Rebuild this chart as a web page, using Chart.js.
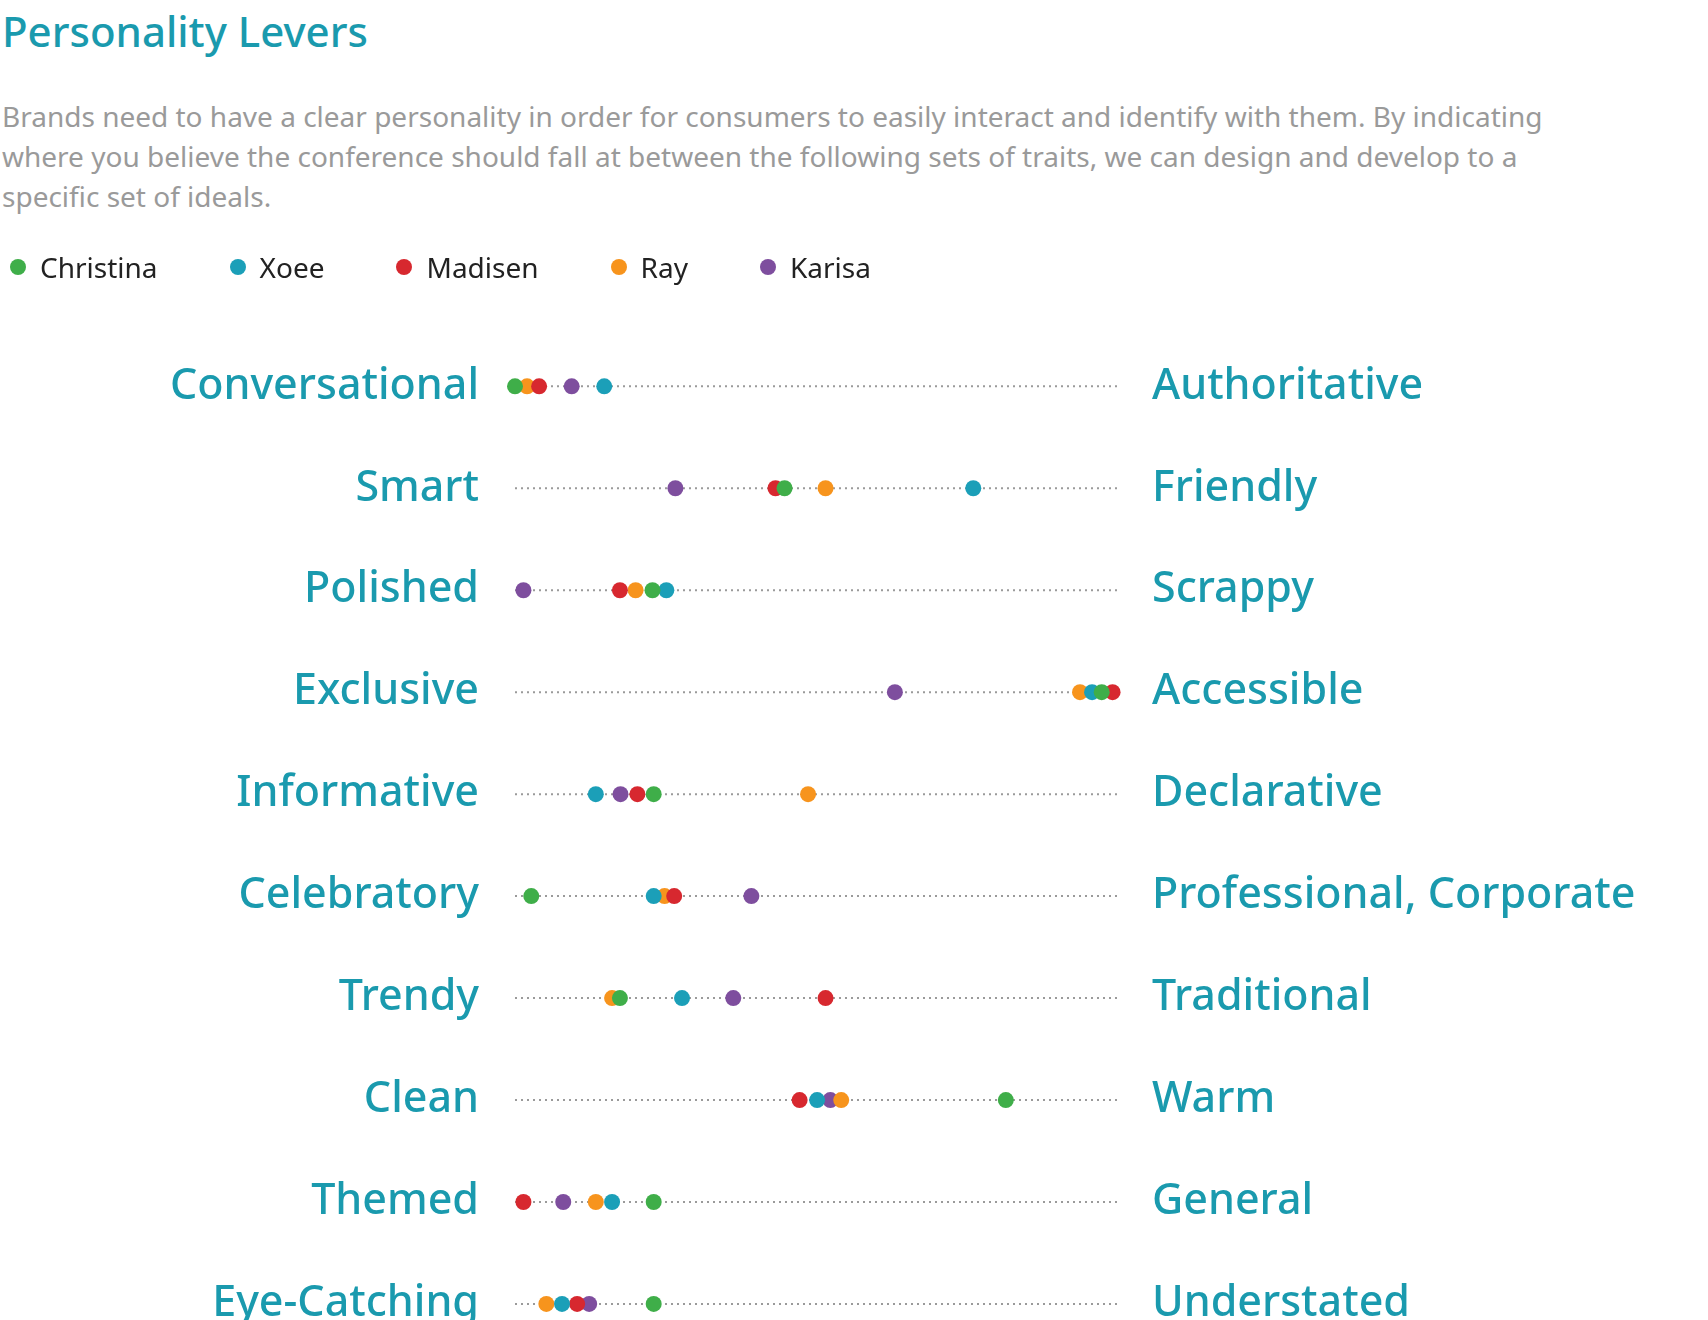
<!DOCTYPE html>
<html>
<head>
<meta charset="utf-8">
<script src="https://cdn.jsdelivr.net/npm/chart.js@4"></script>
<style>
  body { margin: 0; background: #fff; font-family: "Noto Sans", sans-serif; }
  #wrap { position: relative; width: 1708px; height: 1320px; overflow: hidden; }
  h1 { position: absolute; left: 2px; top: 2px; margin: 0; font-size: 42px; font-weight: 500; color: #1a9aae; }
  #desc { position: absolute; left: 2px; top: 96px; width: 1600px; font-size: 28px; line-height: 40px; color: #9a9a9a; margin: 0; }
  #legend { position: absolute; left: 10px; top: 248px; font-size: 28px; color: #222; display: flex; z-index: 2; }
  #legend span { display: flex; align-items: center; margin-right: 72px; }
  #legend i { display: inline-block; width: 16px; height: 16px; border-radius: 50%; margin-right: 14px; }
  #chartBox { position: absolute; left: 0; top: 265px; width: 1708px; height: 1105px; }
</style>
</head>
<body>
<div id="wrap">
  <h1>Personality Levers</h1>
  <p id="desc">Brands need to have a clear personality in order for consumers to easily interact and identify with them. By indicating where you believe the conference should fall at between the following sets of traits, we can design and develop to a specific set of ideals.</p>
  <div id="legend"></div>
  <div id="chartBox"><canvas id="chart"></canvas></div>
</div>
<script>
const leftTraits = ['Conversational', 'Smart', 'Polished', 'Exclusive', 'Informative', 'Celebratory', 'Trendy', 'Clean', 'Themed', 'Eye-Catching'];
const rightTraits = ['Authoritative', 'Friendly', 'Scrappy', 'Accessible', 'Declarative', 'Professional, Corporate', 'Traditional', 'Warm', 'General', 'Understated'];

const people = ['Christina', 'Xoee', 'Madisen', 'Ray', 'Karisa'];
const colors = ['#3fae49', '#1b9fb8', '#d7282f', '#f7941d', '#7e4e9e'];

// position 0 = left trait, 100 = right trait, one value per row
const christina = [0, 44.7, 22.8, 97.3, 23, 2.7, 17.4, 81.4, 23, 23];
const xoee      = [14.8, 76, 25.1, 95.7, 13.4, 23, 27.7, 50.1, 16.1, 7.8];
const madisen   = [4, 43.2, 17.4, 99.1, 20.3, 26.4, 51.5, 47.2, 1.4, 10.3];
const ray       = [2, 51.5, 20, 93.7, 48.6, 24.8, 16.1, 54.1, 13.4, 5.2];
const karisa    = [9.4, 26.6, 1.4, 63, 17.5, 39.2, 36.2, 52.3, 8, 12.3];
const values = [christina, xoee, madisen, ray, karisa];

const legend = document.getElementById('legend');
people.forEach((p, i) => {
  const s = document.createElement('span');
  s.innerHTML = `<i style="background:${colors[i]}"></i>${p}`;
  legend.appendChild(s);
});

const dottedRows = {
  id: 'dottedRows',
  beforeDatasetsDraw(chart) {
    const { ctx, scales: { x, y } } = chart;
    ctx.save();
    ctx.strokeStyle = '#9a9a9a';
    ctx.lineWidth = 2;
    ctx.setLineDash([2, 4]);
    leftTraits.forEach((_, i) => {
      const py = y.getPixelForValue(i);
      ctx.beginPath();
      ctx.moveTo(x.getPixelForValue(0), py);
      ctx.lineTo(x.getPixelForValue(100), py);
      ctx.stroke();
    });
    ctx.restore();
  }
};

const tealFont = { family: '"Noto Sans", sans-serif', size: 43, weight: '500' };

new Chart(document.getElementById('chart'), {
  type: 'scatter',
  data: {
    datasets: people.map((p, i) => ({
      label: p,
      data: values[i].map((v, r) => ({ x: v, y: r })),
      backgroundColor: colors[i],
      borderWidth: 0,
      pointRadius: 8,
      pointHoverRadius: 8,
      clip: false
    }))
  },
  plugins: [dottedRows],
  options: {
    responsive: true,
    maintainAspectRatio: false,
    animation: false,
    layout: { padding: 0 },
    plugins: { legend: { display: false }, tooltip: { enabled: false } },
    scales: {
      x: { min: 0, max: 100, display: false },
      y: {
        type: 'linear', reverse: true, min: -0.662, max: 9.12, position: 'left',
        grid: { display: false }, border: { display: false },
        afterFit(s) { s.width = 515; },
        afterBuildTicks(s) { s.ticks = leftTraits.map((_, i) => ({ value: i })); },
        ticks: { padding: 28, color: '#1a9aae', font: tealFont, callback: v => leftTraits[v] }
      },
      y2: {
        type: 'linear', reverse: true, min: -0.662, max: 9.12, position: 'right',
        grid: { display: false }, border: { display: false },
        afterFit(s) { s.width = 590; },
        afterBuildTicks(s) { s.ticks = rightTraits.map((_, i) => ({ value: i })); },
        ticks: { padding: 26, color: '#1a9aae', font: tealFont, callback: v => rightTraits[v] }
      }
    }
  }
});
</script>
</body>
</html>
